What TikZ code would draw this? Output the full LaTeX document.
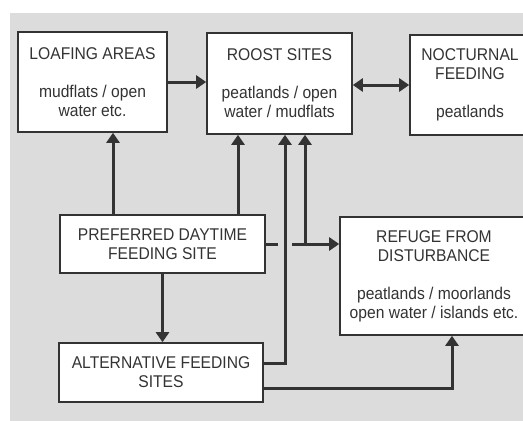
\documentclass[tikz,border=0pt]{standalone}
\usepackage{fontspec}
\setmainfont{Liberation Sans}[FakeStretch=0.92]
\usetikzlibrary{arrows.meta}
\definecolor{paper}{HTML}{DCDCDC}
\definecolor{ink}{HTML}{333333}
\begin{document}
\begin{tikzpicture}[x=1pt, y=-1pt, >={Triangle[length=10pt,width=13pt]},
    box/.style = {draw=ink, line width=1.6pt, fill=white, inner sep=0pt, align=center,
                  text=ink, font=\fontsize{17}{19}\selectfont},
    arr/.style = {->, draw=ink, line width=3pt}]
    \useasboundingbox (0,0) rectangle (523,421);
    \clip (0,0) rectangle (523,421);
    \fill[paper] (10,13) rectangle (523,421);

    \node[box, minimum width=149pt, minimum height=100pt] (loaf) at (92.5,82)
        {LOAFING AREAS\\[19pt]mudflats / open\\water etc.};
    \node[box, minimum width=145pt, minimum height=101pt] (roost) at (279.5,83.5)
        {ROOST SITES\\[19pt]peatlands / open\\water / mudflats};
    \node[box, minimum width=120pt, minimum height=100pt] (noct) at (470,85)
        {NOCTURNAL\\FEEDING\\[19pt]peatlands};
    \node[box, minimum width=205pt, minimum height=58pt] (pref) at (162.5,244)
        {PREFERRED DAYTIME\\FEEDING SITE};
    \node[box, minimum width=204pt, minimum height=59pt] (alt) at (161,372.5)
        {ALTERNATIVE FEEDING\\SITES};
    \node[box, minimum width=188pt, minimum height=118pt] (refuge) at (434,276)
        {REFUGE FROM\\DISTURBANCE\\[19pt]peatlands / moorlands\\open water / islands etc.};

    \draw[arr] (loaf.east) -- (loaf.east -| roost.west);
    \draw[arr, <->] (noct.west -| roost.east) -- (noct.west);
    \draw[arr] ([xshift=-49.5pt]pref.north) -- ([xshift=-49.5pt]pref.north |- loaf.south);
    \draw[arr] ([xshift=-41.5pt]roost.south |- pref.north) -- ([xshift=-41.5pt]roost.south);
    \draw[arr] (pref.south) -- (pref.south |- alt.north);

    \coordinate (cr) at ([xshift=5.5pt]roost.south |- pref.east);
    \coordinate (jn) at ([xshift=25.5pt]roost.south |- pref.east);
    \draw[arr, -] (pref.east) -- ([xshift=-7pt]cr);
    \draw[arr] ([xshift=7pt]cr) -- (refuge.west |- cr);
    \draw[arr] (jn) -- (jn |- roost.south);
    \draw[arr] ([yshift=9.5pt]alt.east) -| ([xshift=5.5pt]roost.south);
    \draw[arr] ([yshift=-15.5pt]alt.east) -| ([xshift=18pt]refuge.south);
\end{tikzpicture}
\end{document}
